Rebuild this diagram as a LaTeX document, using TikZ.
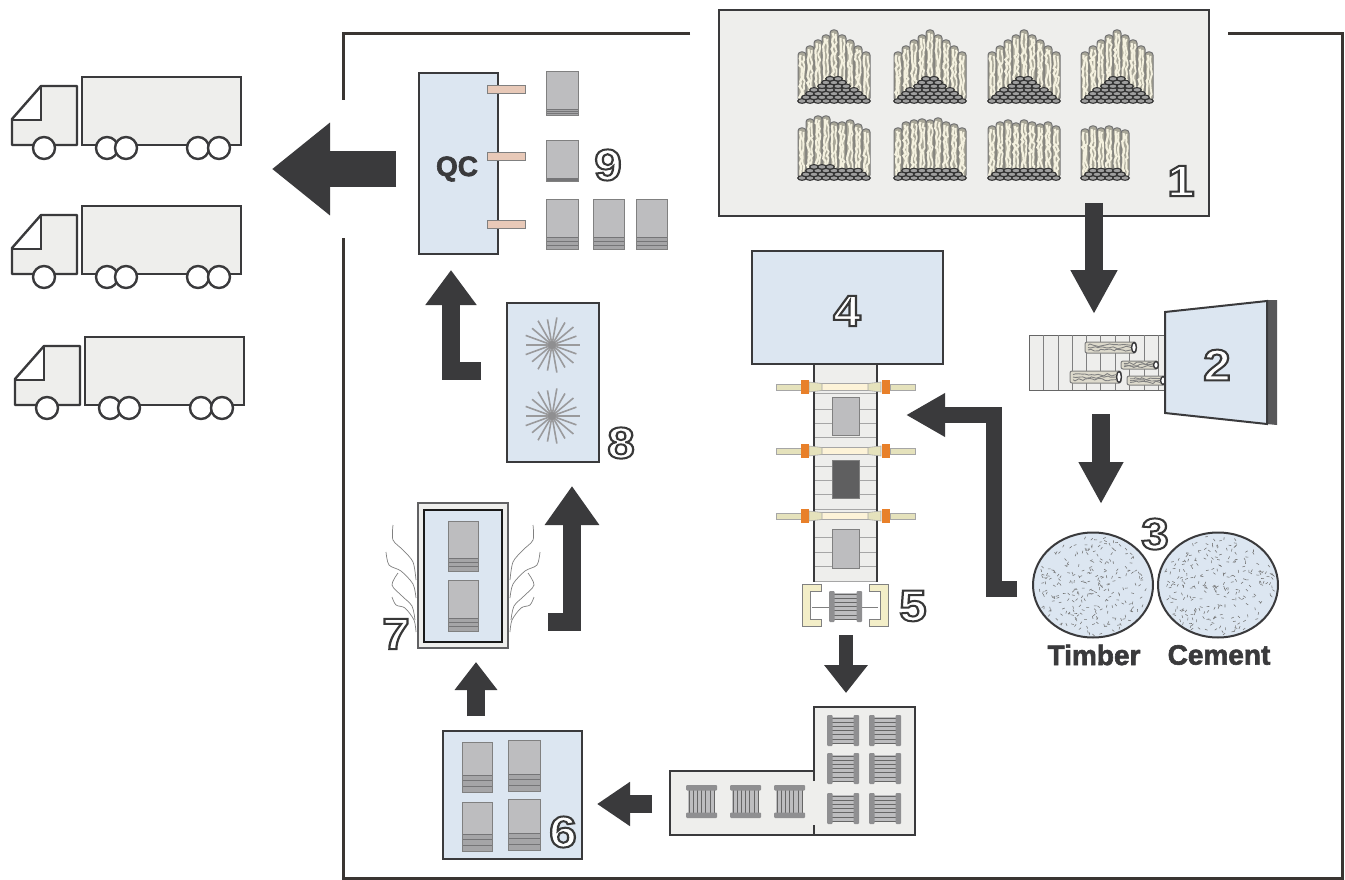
\documentclass[tikz,border=0pt]{standalone}
\usepackage{fontspec}
\usepackage{graphicx}
\setmainfont{Liberation Sans}
\usetikzlibrary{arrows.meta,decorations.pathmorphing,shapes.geometric}
\definecolor{ink}{HTML}{3A3A3C}
\definecolor{frameink}{HTML}{3A3532}
\definecolor{paleblue}{HTML}{DCE6F1}
\definecolor{palegrey}{HTML}{EEEEEC}
\definecolor{boardgrey}{HTML}{BDBDBF}
\definecolor{stripegrey}{HTML}{8F8F91}
\definecolor{darkboard}{HTML}{5F5F60}
\definecolor{orangeblock}{HTML}{E8802A}
\definecolor{barcream}{HTML}{E5E2BC}
\definecolor{centrecream}{HTML}{FDF3D8}
\definecolor{bracketcream}{HTML}{F3EEC8}
\definecolor{rodpink}{HTML}{E8C9B8}
\definecolor{logbody}{HTML}{A8A698}
\definecolor{logcream}{HTML}{F4F1DF}
\tikzset{
  bluebox/.style={draw=ink,line width=2pt,fill=paleblue,inner sep=0pt,outer sep=0pt},
  greybox/.style={draw=ink,line width=2pt,fill=palegrey,inner sep=0pt,outer sep=0pt},
  bigarrow/.style={draw=ink,line width=18pt,line join=miter},
  numlabel/.style={inner sep=0pt,text=white,font=\fontsize{44}{44}\selectfont\bfseries},
  wordlabel/.style={inner sep=0pt,text=ink,font=\fontsize{28}{28}\selectfont\bfseries},
  truckline/.style={draw=ink,line width=2.4pt},
  wave/.style={draw=gray,line width=.7pt},
  speck/.style={draw=gray!90!black,line width=.55pt},
  wig/.style={decorate,decoration={random steps,segment length=3.2pt,amplitude=1.4pt}},
}
\newcommand{\outl}[1]{\scalebox{1.12}[1]{\special{pdf:code q 2 Tr 2 w 0.22 0.22 0.22 RG}#1\special{pdf:code Q}}}
\newcommand{\heavy}[1]{\special{pdf:code q 2 Tr 0.6 w 0.227 0.227 0.235 RG}#1\special{pdf:code Q}}
% board stack: x1 y1 x2 y2, first stripe y
\newcommand{\stackbd}[5]{%
  \fill[boardgrey] (#1,#2) rectangle (#3,#4);
  \fill[stripegrey!80] (#1,#5) rectangle (#3,#4);
  \pgfmathsetmacro\stepy{(#4-#5)/3}%
  \foreach \s in {0,1,2}{\draw[ink!70,line width=.5pt] (#1,#5+\s*\stepy) -- (#3,#5+\s*\stepy);}
  \draw[gray,line width=.6pt] (#1,#2) rectangle (#3,#4);
}
% spool with flanges left/right
\newcommand{\spoolh}[4]{%
  \fill[boardgrey] (#1+5,#2+2) rectangle (#3-5,#4-2);
  \pgfmathsetmacro\stepy{(#4-#2-6)/6}%
  \foreach \s in {0,...,6}{\draw[gray!80!black,line width=.6pt] (#1+5,#2+3+\s*\stepy) -- (#3-5,#2+3+\s*\stepy);}
  \fill[stripegrey,rounded corners=1pt] (#1,#2) rectangle (#1+5.5,#4);
  \fill[stripegrey,rounded corners=1pt] (#3-5.5,#2) rectangle (#3,#4);
}
% spool with flanges top/bottom
\newcommand{\spoolv}[4]{%
  \fill[boardgrey] (#1+2,#2+5) rectangle (#3-2,#4-5);
  \pgfmathsetmacro\stepx{(#3-#1-6)/6}%
  \foreach \s in {0,...,6}{\draw[gray!80!black,line width=.6pt] (#1+3+\s*\stepx,#2+5) -- (#1+3+\s*\stepx,#4-5);}
  \fill[stripegrey,rounded corners=1pt] (#1,#2) rectangle (#3,#2+5.5);
  \fill[stripegrey,rounded corners=1pt] (#1,#4-5.5) rectangle (#3,#4);
}
% log pile: left x, base y, col/top list, row widths
\newcommand{\logpile}[4]{%
  \foreach \i/\t in {#3}{%
    \pgfmathsetmacro\xa{#1+\i*8}%
    \draw[draw=gray!90!black,fill=logbody,line width=1pt,rounded corners=3pt] (\xa,#2) rectangle (\xa+8,\t);
    \draw[logcream,line width=2.2pt,wig] (\xa+2.6,\t+3) -- (\xa+2.6,#2-1);
    \draw[logcream,line width=1.8pt,wig] (\xa+5.6,\t+4) -- (\xa+5.6,#2-1);
  }
  \foreach \r/\n/\o in {#4}{%
    \foreach \c in {1,...,\n}{%
      \pgfmathsetmacro\ex{#1+4+\o*4+(\c-1)*8}%
      \pgfmathsetmacro\ey{#2-\r*3.7}%
      \draw[draw=black!80,fill=gray!75,line width=1.1pt] (\ex,\ey) ellipse [x radius=4.3,y radius=2.3];
    }
  }
}
% horizontal log
\newcommand{\hlog}[4]{%
  \draw[draw=gray,fill=logcream!80!gray,line width=1pt,rounded corners=2pt] (#1,#2) rectangle (#3,#4);
  \pgfmathsetmacro\ya{#2+(#4-#2)*.3}%
  \pgfmathsetmacro\yb{#2+(#4-#2)*.5}%
  \pgfmathsetmacro\yc{#2+(#4-#2)*.72}%
  \pgfmathsetmacro\ym{(#2+#4)/2}%
  \pgfmathsetmacro\yr{(#4-#2)/2-.5}%
  \draw[gray,line width=.9pt,wig] (#1+3,\ya) -- (#3-5,\ya);
  \draw[gray,line width=.9pt,wig] (#1+3,\yb) -- (#3-5,\yb);
  \draw[gray,line width=.9pt,wig] (#1+3,\yc) -- (#3-5,\yc);
  \draw[draw=ink,fill=white,line width=1.4pt] (#3-2,\ym) ellipse [x radius=2.4,y radius=\yr];
}
\newcommand{\truckshape}[2]{%
  \begin{scope}[shift={(#1,#2)}]
    \fill[palegrey] (12,145) -- (12,119) -- (41,86) -- (77,86) -- (77,145) -- cycle;
    \fill[white] (12,119) -- (41,86) -- (41,120) -- cycle;
    \draw[truckline,line join=round] (12,145) -- (12,119) -- (41,86) -- (77,86) -- (77,145) -- cycle;
    \draw[truckline] (12,120) -- (41,120) -- (41,86);
    \draw[truckline,fill=palegrey] (82,77) rectangle (241,145);
    \foreach \w in {44,107,126,198,219}{\draw[truckline,fill=white] (\w,148) circle (11);}
  \end{scope}
}
\newcommand{\specks}[4]{%
  \begin{scope}
    \clip (#1,#2) ellipse [x radius=#3,y radius=#4];
    \foreach \k in {1,...,250}{%
      \pgfmathsetmacro\rr{sqrt(rnd)*.95}%
      \pgfmathsetmacro\aa{rnd*360}%
      \pgfmathsetmacro\bb{rnd*180}%
      \draw[speck] ({#1+#3*\rr*cos(\aa)},{#2+#4*\rr*sin(\aa)}) -- ++(\bb:2.8);
    }
  \end{scope}
}
\newcommand{\fan}[2]{%
  \foreach \a in {0,40,...,320}{\draw[stripegrey!90,line width=1.6pt] (#1,#2) -- ++(\a:28);}
  \foreach \a in {20,60,...,340}{\draw[stripegrey!90,line width=1.6pt] (#1,#2) -- ++(\a:26);}
  \fill[stripegrey] (#1,#2) circle (4);
}
\newcommand{\press}[1]{%
  \draw[gray!70,fill=barcream,line width=.6pt] (776,#1-3) rectangle (801,#1+3);
  \draw[gray!70,fill=barcream,line width=.6pt] (890,#1-3) rectangle (915,#1+3);
  \draw[gray!70,fill=centrecream,line width=.6pt] (820,#1-3.5) rectangle (870,#1+3.5);
  \draw[gray!70,fill=barcream,line width=.6pt] (809,#1-5) -- (822,#1-3.5) -- (822,#1+3.5) -- (809,#1+5) -- cycle;
  \draw[gray!70,fill=barcream,line width=.6pt] (881,#1-5) -- (868,#1-3.5) -- (868,#1+3.5) -- (881,#1+5) -- cycle;
  \fill[orangeblock] (801,#1-7) rectangle (809,#1+7);
  \fill[orangeblock] (882,#1-7) rectangle (890,#1+7);
}
\begin{document}
\begin{tikzpicture}[x=1pt,y=-1pt]
\pgfmathsetseed{42}
\useasboundingbox (0,0) rectangle (1345,880);
\fill[white] (0,0) rectangle (1345,880);

% outer frame
\draw[frameink,line width=3pt] (690,34) -- (343,34) -- (343,100);
\draw[frameink,line width=3pt] (343,238) -- (343,878) -- (1342,878) -- (1342,34) -- (1228,34);

% 1 log yard
\node[greybox,minimum width=490pt,minimum height=206pt] (yard) at (964,113) {};
\foreach \x in {798,894,988,1081}{%
  \logpile{\x}{101}{0/52,1/46,2/40,3/35,4/30,5/35,6/40,7/46,8/52}{0/9/0,1/8/1,2/7/2,3/6/3,4/4/5,5/3/6,6/2/7}
}
\logpile{798}{178}{0/128,1/119,2/116,3/116,4/122,5/122,6/120,7/124,8/129}{0/9/0,1/8/1,2/7/2,3/3/3}
\logpile{894}{178}{0/128,1/122,2/120,3/119,4/120,5/118,6/122,7/124,8/128}{0/9/0,1/8/1,2/7/2}
\logpile{988}{178}{0/126,1/122,2/120,3/123,4/120,5/122,6/124,7/122,8/126}{0/9/0,1/8/1,2/7/2}
\logpile{1081}{178}{0/129,1/126,2/128,3/126,4/128,5/130}{0/6/0,1/5/1,2/4/2}
\node[numlabel] (n1) at (1181,181) {\outl{1}};

% 2 conveyor and chipper
\node[draw=gray!80!black,line width=.8pt,fill=palegrey,minimum width=137pt,minimum height=55pt,inner sep=0pt] (belt) at (1097.5,362.5) {};
\foreach \x in {1043,1058,1072,1086,1100,1115,1129,1144,1158}{\draw[gray,line width=.7pt] (\x,335) -- (\x,390);}
\hlog{1085}{342}{1136}{353}
\hlog{1121}{361}{1158}{369}
\hlog{1070}{371}{1121}{383}
\hlog{1127}{376}{1165}{385}
\fill[ink!85] (1267,300) -- (1277,300) -- (1277,425) -- (1267,424) -- cycle;
\draw[ink,fill=paleblue,line width=2pt,line join=miter] (1165,312) -- (1267,301) -- (1267,424) -- (1165,413) -- cycle;
\node[numlabel] (n2) at (1217,365) {\outl{2}};

% 3 silos
\node[ellipse,draw=ink,line width=2pt,fill=paleblue,inner sep=0pt,minimum width=120pt,minimum height=105pt] (timber) at (1093,585) {};
\node[ellipse,draw=ink,line width=2pt,fill=paleblue,inner sep=0pt,minimum width=120pt,minimum height=105pt] (cement) at (1218,585) {};
\specks{1093}{585}{59}{52}
\specks{1218}{585}{59}{52}
\node[numlabel] (n3) at (1155,534) {\outl{3}};
\node[wordlabel] (timberlabel) at (1094,655) {\heavy{Timber}};
\node[wordlabel] (cementlabel) at (1219,655) {\heavy{Cement}};

% 4 former
\node[bluebox,minimum width=191pt,minimum height=113pt] (former) at (847.5,307.5) {};
\node[numlabel] (n4) at (847,311) {\outl{4}};

% 5 press line
\fill[palegrey] (814,365) rectangle (877,582);
\foreach \y in {393,409,423,437,466,480,494,509,537,552,566,581}{\draw[gray!70,line width=.7pt] (814,\y) -- (877,\y);}
\draw[ink,line width=1.4pt] (814,365) -- (814,582);
\draw[ink,line width=1.4pt] (877,365) -- (877,582);
\draw[gray,fill=boardgrey,line width=.6pt] (832,397) rectangle (859,435);
\draw[gray,fill=darkboard,line width=.6pt] (832,460) rectangle (859,498);
\draw[gray,fill=boardgrey,line width=.6pt] (832,529) rectangle (859,568);
\press{387}
\press{451}
\press{516}
\draw[gray,line width=.8pt] (812,607) -- (878,607);
\spoolh{829}{591}{862}{622}
\foreach \m in {0,1}{%
  \begin{scope}[shift={(\m*1690,0)},xscale={1-2*\m}]
    \draw[gray,fill=bracketcream,line width=.6pt] (821,584) -- (802,584) -- (802,626) -- (821,626) -- (821,619) -- (810,619) -- (810,591) -- (821,591) -- cycle;
  \end{scope}
}
\node[numlabel] (n5) at (913,606) {\outl{5}};

% storage
\draw[draw=none,fill=palegrey] (814,707) -- (915,707) -- (915,835) -- (670,835) -- (670,771) -- (814,771) -- cycle;
\draw[ink,line width=2pt,line join=miter] (814,781) -- (814,707) -- (915,707) -- (915,835) -- (670,835) -- (670,771) -- (814,771);
\draw[ink,line width=2pt] (814,825) -- (814,835);
\coordinate (store) at (814,771);
\foreach \a/\b in {715/746,753/784,793/824}{%
  \spoolh{827}{\a}{859}{\b}
  \spoolh{869}{\a}{901}{\b}
}
\foreach \a/\b in {686/717,730/761,774/805}{\spoolv{\a}{785}{\b}{818}}

% 6 stacks
\node[bluebox,minimum width=139pt,minimum height=128pt] (box6) at (512.5,795) {};
\stackbd{462}{742}{492}{792}{775}
\stackbd{508}{740}{540}{791}{774}
\stackbd{462}{802}{492}{851}{834}
\stackbd{508}{799}{540}{850}{833}
\node[numlabel] (n6) at (563,832) {\outl{6}};

% 7 dryer
\node[draw=ink!80,line width=1.5pt,fill=palegrey,minimum width=90pt,minimum height=145pt,inner sep=0pt] (box7) at (463,575.5) {};
\node[draw=black!90,line width=2.8pt,fill=paleblue,minimum width=78pt,minimum height=132pt,inner sep=0pt] (box7in) at (463,576) {};
\stackbd{448}{521}{478}{571}{558}
\stackbd{448}{580}{478}{631}{618}
\foreach \m in {0,1}{%
  \begin{scope}[shift={(\m*926,0)},xscale={1-2*\m}]
    \draw[wave] plot[smooth] coordinates {(393,525)(393,540)(403,550)(413,562)(416,580)};
    \draw[wave] plot[smooth] coordinates {(386,552)(389,565)(401,571)(413,584)(416,598)};
    \draw[wave] plot[smooth] coordinates {(398,573)(392,585)(402,596)(412,606)(415,620)};
    \draw[wave] plot[smooth] coordinates {(392,597)(396,605)(405,608)(414,620)(416,632)};
  \end{scope}
}
\node[numlabel] (n7) at (396,634) {\outl{7}};

% 8 cooler
\node[bluebox,minimum width=92pt,minimum height=159pt] (box8) at (553,382.5) {};
\fan{552}{345}
\fan{552}{416}
\node[numlabel] (n8) at (621,443) {\outl{8}};

% 9 QC
\node[bluebox,minimum width=79pt,minimum height=181pt] (qc) at (458.5,163.5) {};
\node[wordlabel] (qclabel) at (457,169) {\heavy{QC}};
\foreach \y in {89,156,224}{\draw[gray,fill=rodpink,line width=.8pt] (487,\y-4) rectangle (525,\y+4);}
\stackbd{546}{71}{578}{115}{109}
\stackbd{546}{140}{578}{181}{178}
\stackbd{546}{199}{578}{249}{237}
\stackbd{593}{199}{624}{249}{237}
\stackbd{636}{199}{667}{249}{237}
\node[numlabel] (n9) at (608,165) {\outl{9}};

% trucks
\truckshape{0}{0}
\truckshape{0}{129}
\truckshape{3}{260}

% connectors
\coordinate (a1s) at (1094,203);
\coordinate (a1e) at (1094,314);
\coordinate (a2s) at (1101,414);
\coordinate (a2e) at (1101,504);
\coordinate (a3s) at (1017,589);
\coordinate (a3m) at (994,415);
\coordinate (a3e) at (906,415);
\coordinate (a4s) at (846,635);
\coordinate (a4e) at (846,693);
\coordinate (a5s) at (652,804);
\coordinate (a5e) at (597,804);
\coordinate (a6s) at (476,716);
\coordinate (a6e) at (476,662);
\coordinate (a7s) at (548,622);
\coordinate (a7e) at (572,486);
\coordinate (a8s) at (481,371);
\coordinate (a8e) at (451,270);
\coordinate (a9s) at (396,169);
\coordinate (a9e) at (272,169);
\draw[bigarrow,-{Triangle[length=44pt,width=44pt]}] (a1s) -- (a1e);
\draw[bigarrow,-{Triangle[length=42pt,width=42pt]}] (a2s) -- (a2e);
\draw[bigarrow,line width=16.5pt,-{Triangle[length=39pt,width=41pt]}] (a3s) -| (a3m) -- (a3e);
\draw[bigarrow,line width=14pt,-{Triangle[length=28pt,width=42pt]}] (a4s) -- (a4e);
\draw[bigarrow,-{Triangle[length=33pt,width=42pt]}] (a5s) -- (a5e);
\draw[bigarrow,-{Triangle[length=28pt,width=41pt]}] (a6s) -- (a6e);
\draw[bigarrow,-{Triangle[length=39pt,width=52pt]}] (a7s) -| (a7e);
\draw[bigarrow,-{Triangle[length=35pt,width=49pt]}] (a8s) -| (a8e);
\draw[bigarrow,line width=36pt,-{Triangle[length=58pt,width=89pt]}] (a9s) -- (a9e);
\end{tikzpicture}
\end{document}
